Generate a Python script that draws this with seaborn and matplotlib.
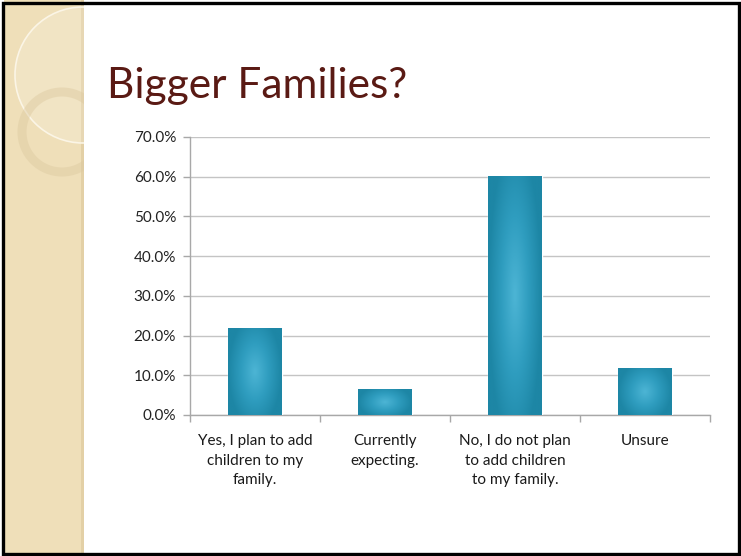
"""
Bigger Families? - survey slide recreated as a seaborn bar chart.
Output: out.png
"""

import numpy as np
import pandas as pd
import matplotlib.pyplot as plt
import matplotlib.patches as mpatches
from matplotlib.ticker import FuncFormatter, FixedLocator
import seaborn as sns

# =============================================================================
# DATA
# =============================================================================
categories = [
    "Yes, I plan to add\nchildren to my\nfamily.",
    "Currently\nexpecting.",
    "No, I do not plan\nto add children\nto my family.",
    "Unsure",
]
shares = [21.8, 6.5, 60.3, 11.8]   # percent of respondents
y_ticks = [0, 10, 20, 30, 40, 50, 60, 70]
title = "Bigger Families?"

df = pd.DataFrame({"answer": categories, "share": shares})

# =============================================================================
# SETUP
# =============================================================================
sns.set_style("white")
plt.rcParams["font.family"] = ["Lato", "DejaVu Sans"]

W, H = 741, 556
fig = plt.figure(figsize=(W / 100, H / 100), dpi=100)
fig.patch.set_facecolor("white")

# Left decorative stripe
stripe = mpatches.Rectangle((4 / W, 0), 80 / W, 1, transform=fig.transFigure,
                            facecolor="#efdfb9", edgecolor="none", zorder=0)
fig.add_artist(stripe)
edge = mpatches.Rectangle((81 / W, 0), 3 / W, 1, transform=fig.transFigure,
                          facecolor="#e3d0a6", edgecolor="none", zorder=0.5)
fig.add_artist(edge)

# circles on the stripe (pixel-space overlay axes)
deco = fig.add_axes([0, 0, 1, 1], zorder=0.6)
deco.set_xlim(0, W)
deco.set_ylim(H, 0)
deco.axis("off")
deco.patch.set_alpha(0)
clip = mpatches.Rectangle((4, 0), 80, H, transform=deco.transData)
glow = mpatches.Circle((83, 75), 68, facecolor="white", alpha=0.16, edgecolor="none")
ring_big = mpatches.Circle((83, 75), 68, facecolor="none", edgecolor="#fbf5e6", lw=1.2)
ring_small = mpatches.Circle((62, 132), 40, facecolor="none", edgecolor="#dcc9a0",
                             lw=6.5, alpha=0.45)
for p in (glow, ring_big, ring_small):
    deco.add_patch(p)
    p.set_clip_path(clip)

# =============================================================================
# CHART
# =============================================================================
ax = fig.add_axes([190 / W, 1 - 415 / H, 520 / W, 278 / H], zorder=2)
ax.patch.set_alpha(0)

sns.barplot(data=df, x="answer", y="share", ax=ax, color="#2b98b8",
            width=0.415, saturation=1, zorder=3)

# soft radial gradient on each bar (lighter centre, darker edges)
cmap = sns.blend_palette(["#1d86a5", "#2f9dbf", "#4cb4d4"], as_cmap=True)
gx, gy = np.meshgrid(np.linspace(-1, 1, 60), np.linspace(-1, 1, 200))
dist = np.sqrt(gx ** 2 + 0.6 * gy ** 2)
for bar in ax.patches:
    x0, y0 = bar.get_x(), bar.get_y()
    w, h = bar.get_width(), bar.get_height()
    img = ax.imshow(1 - np.clip(dist, 0, 1), cmap=cmap, aspect="auto",
                    extent=(x0, x0 + w, y0, y0 + h), origin="lower", zorder=4)
    img.set_clip_path(bar)

ax.set_xlim(-0.5, 3.5)
ax.set_ylim(0, 70)
ax.yaxis.set_major_locator(FixedLocator(y_ticks))
ax.yaxis.set_major_formatter(FuncFormatter(lambda v, _: f"{v:.1f}%"))
ax.grid(axis="y", color="#c4c4c4", lw=1.0, zorder=1)
ax.set_axisbelow(True)

for s in ("top", "right"):
    ax.spines[s].set_visible(False)
for s in ("left", "bottom"):
    ax.spines[s].set_color("#a8a8a8")
    ax.spines[s].set_linewidth(1.0)

ax.tick_params(axis="y", which="major", length=5, width=1.0, color="#a8a8a8",
               labelsize=11, labelcolor="#222222", pad=5, left=True)
ax.tick_params(axis="x", which="major", length=0, labelsize=11,
               labelcolor="#1a1a1a", pad=14)
ax.set_xticks(np.arange(-0.5, 4, 1), minor=True)
ax.tick_params(axis="x", which="minor", length=5, width=1.0, color="#a8a8a8",
               bottom=True)
for lbl in ax.get_xticklabels():
    lbl.set_linespacing(1.5)
    lbl.set_va("top")
ax.set_xlabel("")
ax.set_ylabel("")

# =============================================================================
# TITLE + FRAME
# =============================================================================
fig.text(107 / W, 1 - 98 / H, title, fontsize=30.5, color="#5a1a14",
         ha="left", va="baseline", zorder=5)

frame = mpatches.Rectangle((2.5 / W, 2.5 / H), 1 - 5 / W, 1 - 5 / H,
                           transform=fig.transFigure, facecolor="none",
                           edgecolor="black", lw=2.4, zorder=10)
fig.add_artist(frame)

plt.savefig("out.png", dpi=100)
